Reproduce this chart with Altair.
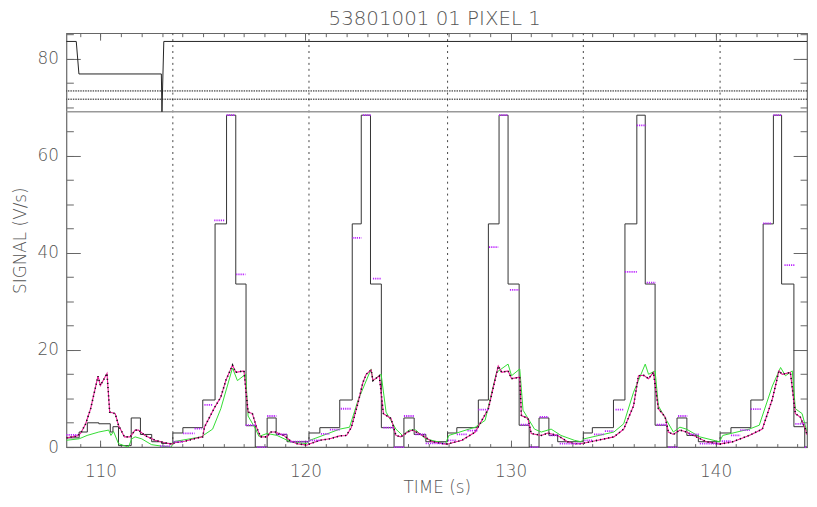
import altair as alt
import pandas as pd

TITLE = "53801001 01 PIXEL 1"
X_DOMAIN = [108.34, 144.46]
Y_DOMAIN = [0, 85.3]
W, H = 748, 418
FONT = "DejaVu Sans"
TXT = "#555555"

# black step signal (step-after)
STEP_T = [108.34, 108.96, 109.36, 109.92, 110.48, 110.61, 110.88, 111.5, 111.95, 112.5, 112.98,
          113.53, 114.02, 114.99, 115.59, 116.15, 116.6, 117.1, 117.55, 118.13, 118.57, 119.1,
          120.17, 120.7, 121.67, 122.28, 122.72, 123.17, 123.7, 124.32, 124.8, 125.3, 125.87,
          126.93, 127.38, 128.43, 128.92, 129.44, 129.88, 130.42, 130.91, 131.39, 131.87, 132.3,
          133.55, 133.99, 135.02, 135.58, 136.16, 136.57, 137.05, 137.63, 138.12, 138.6, 139.16,
          140.22, 140.75, 141.72, 142.32, 142.82, 143.22, 143.82, 144.35, 144.46]
STEP_V = [1.9, 3.1, 5.0, 4.8, 3.1, 4.2, 0.3, 6.0, 2.6, 1.1, 0.75,
          2.9, 4.0, 9.7, 46.0, 68.4, 33.6, 4.4, 0.0, 6.0, 2.6, 1.1,
          2.9, 4.0, 9.7, 46.0, 68.4, 33.6, 4.0, 0.0, 6.0, 2.6, 1.1,
          2.9, 4.0, 9.7, 46.0, 68.4, 33.6, 4.5, 0.0, 6.0, 2.4, 1.1,
          2.9, 4.0, 9.7, 46.0, 68.4, 33.6, 4.5, 0.0, 6.0, 2.4, 1.1,
          2.9, 4.0, 9.7, 46.0, 68.4, 33.6, 4.2, 0.0, 0.0]

# magenta line / black dotted samples
MAG_T = [108.34, 108.87, 109.03, 109.28, 109.52, 109.88, 110.0, 110.32, 110.45, 110.72, 110.88,
         111.17, 111.45, 111.69, 111.85, 112.17, 112.66, 113.14, 113.46, 113.62, 114.11, 114.75,
         114.99, 115.07, 115.56, 115.87, 116.12, 116.44, 116.6, 117.0, 117.2, 117.41, 117.61,
         117.81, 118.13, 118.29, 118.53, 118.94, 119.26, 119.58, 120.06, 120.22, 120.71, 121.19,
         121.67, 122.0, 122.24, 122.56, 122.8, 122.96, 123.2, 123.29, 123.6, 123.8, 124.17,
         124.41, 124.65, 124.98, 125.22, 125.7, 126.18, 126.83, 126.99, 127.63, 128.28, 128.92,
         129.4, 129.57, 129.88, 130.05, 130.45, 130.53, 130.85, 131.01, 131.5, 131.82, 132.3,
         132.78, 133.11, 133.43, 133.91, 135.04, 135.52, 136.0, 136.24, 136.49, 136.73, 136.97,
         137.21, 137.54, 137.7, 137.94, 138.26, 138.58, 139.06, 139.55, 140.19, 140.84, 141.64,
         142.28, 142.77, 143.09, 143.25, 143.65, 143.89, 144.13, 144.38, 144.46]
MAG_V = [1.9, 2.3, 2.8, 4.8, 7.9, 14.6, 12.7, 15.2, 7.2, 6.9, 4.5,
         2.1, 2.1, 3.5, 3.5, 2.4, 1.4, 0.9, 0.6, 0.9, 1.2, 1.9,
         2.1, 4.1, 8.1, 10.3, 13.8, 16.9, 15.4, 15.7, 7.2, 6.9, 4.1,
         2.1, 2.1, 3.1, 3.1, 2.4, 1.3, 0.7, 0.4, 0.7, 1.4, 1.7,
         2.3, 2.4, 4.1, 9.1, 13.3, 15.0, 15.9, 13.7, 14.7, 6.9, 5.9,
         2.4, 2.1, 3.1, 3.5, 2.4, 1.1, 0.6, 0.7, 1.4, 3.1, 7.9,
         16.7, 15.4, 15.7, 14.1, 14.4, 6.5, 5.9, 2.8, 2.4, 2.9, 2.4,
         1.1, 0.7, 0.7, 1.1, 2.1, 3.7, 8.5, 14.7, 14.8, 14.1, 15.4,
         7.9, 6.2, 3.1, 2.6, 3.5, 3.1, 2.1, 1.1, 0.6, 1.1, 2.4,
         3.7, 9.9, 15.7, 15.0, 15.4, 6.9, 6.2, 3.7, 2.5]

# green line
GRN_T = [108.34, 108.96, 109.35, 109.92, 110.4, 110.51, 110.64, 110.88, 111.36, 111.53, 111.69,
         112.01, 112.49, 112.97, 113.46, 113.55, 114.91, 115.47, 115.87, 116.44, 116.68, 117.08,
         117.2, 117.57, 117.73, 118.13, 118.61, 119.26, 120.06, 120.22, 121.67, 122.15, 122.56,
         123.2, 123.29, 123.69, 123.93, 124.41, 124.73, 125.05, 125.38, 125.86, 126.83, 126.99,
         128.28, 128.76, 129.32, 129.88, 130.05, 130.45, 130.61, 131.17, 131.5, 131.98, 132.46,
         133.11, 133.43, 133.59, 135.04, 135.52, 136.0, 136.57, 136.73, 137.05, 137.21, 137.61,
         137.94, 138.26, 138.58, 139.23, 140.19, 140.35, 141.64, 142.13, 142.77, 143.17, 143.41,
         143.74, 143.89, 144.22, 144.46]
GRN_V = [1.4, 1.7, 2.4, 3.1, 3.5, 2.4, 3.2, 0.7, 0.0, 1.7, 2.1,
         1.7, 0.5, 0.2, 0.0, 1.1, 2.1, 3.7, 7.9, 16.3, 13.7, 15.0,
         6.4, 3.7, 2.2, 2.8, 2.4, 1.1, 0.7, 1.4, 3.7, 4.1, 9.6,
         16.1, 13.7, 15.0, 7.2, 3.7, 2.4, 3.5, 3.5, 1.7, 0.7, 2.4,
         4.1, 5.5, 15.4, 17.1, 14.7, 16.1, 7.6, 3.7, 3.1, 3.7, 2.4,
         1.4, 1.1, 1.7, 3.1, 4.8, 11.3, 17.1, 15.0, 15.7, 8.5, 5.5,
         3.1, 4.1, 3.7, 2.1, 1.1, 2.4, 3.7, 4.5, 12.6, 16.4, 14.7,
         15.7, 7.9, 6.9, 3.1]

# violet dotted group levels (start, end, value)
DASH_T0 = [108.34, 112.9, 113.55, 114.03, 114.59, 115.07, 115.55, 116.15, 116.62, 117.08, 117.65,
           118.13, 118.6, 119.26, 120.2, 120.75, 121.19, 121.72, 122.29, 122.8, 123.29, 123.8,
           124.32, 124.8, 125.36, 125.86, 126.95, 127.38, 127.9, 128.43, 128.95, 129.44, 129.97,
           130.5, 130.95, 131.42, 131.9, 132.4, 133.6, 134.07, 134.6, 135.12, 135.58, 136.16,
           136.64, 137.13, 137.7, 138.17, 138.7, 139.23, 140.3, 140.75, 141.2, 141.72, 142.32,
           142.82, 143.36, 143.89, 144.35]
DASH_T1 = [108.9, 113.45, 114.02, 114.59, 114.94, 115.47, 116.06, 116.54, 117.07, 117.57, 118.1,
           118.58, 119.1, 120.17, 120.7, 121.19, 121.67, 122.24, 122.73, 123.19, 123.69, 124.28,
           124.8, 125.29, 125.86, 126.83, 127.38, 127.9, 128.4, 128.92, 129.4, 129.88, 130.42,
           130.9, 131.4, 131.85, 132.35, 133.45, 133.99, 134.55, 135.04, 135.52, 136.16, 136.61,
           137.08, 137.61, 138.15, 138.62, 139.19, 140.19, 140.75, 141.2, 141.67, 142.23, 142.74,
           143.22, 143.87, 144.35, 144.46]
DASH_V = [2.5, 0.2, 1.1, 2.8, 3.8, 8.7, 46.7, 68.4, 35.6, 4.5, 0.0,
          6.4, 2.6, 1.1, 1.4, 2.7, 3.6, 7.9, 43.1, 68.4, 34.7, 4.0,
          0.0, 6.4, 2.6, 0.75, 1.4, 2.6, 3.4, 7.7, 41.2, 68.4, 32.4,
          4.6, 0.0, 6.2, 2.4, 0.7, 1.4, 2.6, 3.3, 7.7, 36.1, 66.3,
          33.9, 4.6, 0.0, 6.4, 2.6, 0.7, 1.2, 2.4, 3.5, 7.8, 46.1,
          68.4, 37.5, 4.8, 0.0]

# upper status trace
TOP_T = [108.34, 108.82, 108.95, 112.97, 113.0, 113.09, 144.46]
TOP_V = [83.6, 83.6, 76.9, 76.9, 69.1, 83.6, 83.6]

VLINES = [113.53, 120.17, 126.93, 133.55, 140.22]
HSOLID = [69.1]
HDOT = [73.4, 71.7]

X_MAJOR = [110, 120, 130, 140]
X_MINOR = list(range(109, 145))
Y_MAJOR = [0, 20, 40, 60, 80]
Y_MINOR = list(range(0, 86, 5))

xs = alt.Scale(domain=X_DOMAIN, nice=False, zero=False)
ys = alt.Scale(domain=Y_DOMAIN, nice=False, zero=False)

step_df = pd.DataFrame({"t": STEP_T, "v": STEP_V})
mag_df = pd.DataFrame({"t": MAG_T, "v": MAG_V})
grn_df = pd.DataFrame({"t": GRN_T, "v": GRN_V})
dash_df = pd.DataFrame({"t0": DASH_T0, "t1": DASH_T1, "v": DASH_V})
top_df = pd.DataFrame({"t": TOP_T, "v": TOP_V})
vl_df = pd.DataFrame({"t": VLINES})
hs_df = pd.DataFrame({"v": HSOLID})
hd_df = pd.DataFrame({"v": HDOT})
dummy = pd.DataFrame({"t": [X_DOMAIN[0]], "v": [0.0]})

X = lambda f="t": alt.X(f"{f}:Q", scale=xs, axis=None)
Y = lambda f="v": alt.Y(f"{f}:Q", scale=ys, axis=None)


def tick_axis(orient, offset, values, size):
    return alt.Axis(orient=orient, offset=offset, values=values, tickSize=size, labels=False,
                    domain=False, grid=False, title=None, tickColor="#666666", tickWidth=1)


def xaxis_layer(axis):
    return alt.Chart(dummy).mark_point(opacity=0).encode(
        x=alt.X("t:Q", scale=xs, axis=axis), y=Y())


def yaxis_layer(axis):
    return alt.Chart(dummy).mark_point(opacity=0).encode(
        x=X(), y=alt.Y("v:Q", scale=ys, axis=axis))


x_label_axis = alt.Axis(orient="bottom", values=X_MAJOR, tickSize=0, domain=False, grid=False,
                        labelPadding=17, labelFont=FONT, labelFontSize=17, labelColor=TXT,
                        labelFontWeight=300, title="TIME (s)", titleFont=FONT, titleFontSize=17,
                        titleFontWeight=300, titleColor=TXT, titleY=41, titleBaseline="middle")
y_label_axis = alt.Axis(orient="left", values=Y_MAJOR, tickSize=0, domain=False, grid=False,
                        labelPadding=8, labelFont=FONT, labelFontSize=17, labelColor=TXT,
                        labelFontWeight=300, title="SIGNAL (V/s)", titleFont=FONT, titleFontSize=17,
                        titleFontWeight=300, titleColor=TXT, titleX=-46, titleY=H / 2,
                        titleAngle=270, titleBaseline="middle", titleAlign="center")

axes = [
    xaxis_layer(x_label_axis),
    xaxis_layer(tick_axis("top", -H, X_MAJOR, 7)),
    xaxis_layer(tick_axis("top", -H, X_MINOR, 3.5)),
    xaxis_layer(tick_axis("bottom", -H, X_MAJOR, 7)),
    xaxis_layer(tick_axis("bottom", -H, X_MINOR, 3.5)),
    yaxis_layer(y_label_axis),
    yaxis_layer(tick_axis("right", -W, Y_MAJOR, 14)),
    yaxis_layer(tick_axis("right", -W, Y_MINOR, 7)),
    yaxis_layer(tick_axis("left", -W, Y_MAJOR, 14)),
    yaxis_layer(tick_axis("left", -W, Y_MINOR, 7)),
]

vlines = alt.Chart(vl_df).mark_rule(color="#444444", strokeDash=[2, 4], strokeWidth=1).encode(x=X())
hsolid = alt.Chart(hs_df).mark_rule(color="#999999", strokeWidth=1.5).encode(y=Y())
hdot = alt.Chart(hd_df).mark_rule(color="#111111", strokeDash=[1.5, 1], strokeWidth=1).encode(y=Y())

step = alt.Chart(step_df).mark_line(interpolate="step-after", color="#333333", strokeWidth=1,
                                    clip=True).encode(x=X(), y=Y())
green = alt.Chart(grn_df).mark_line(color="#33dd33", strokeWidth=1, clip=True).encode(x=X(), y=Y())
mag = alt.Chart(mag_df).mark_line(color="#ee1a9c", strokeWidth=1.1, clip=True).encode(x=X(), y=Y())
blackdot = alt.Chart(mag_df).mark_line(color="#111111", strokeWidth=1.6, strokeDash=[1.2, 3],
                                       clip=True).encode(x=X(), y=Y())
dashes = alt.Chart(dash_df).mark_rule(color="#bb22ff", strokeWidth=1.8, strokeDash=[1.2, 1]).encode(
    x=X("t0"), x2="t1:Q", y=Y())
top = alt.Chart(top_df).mark_line(color="#222222", strokeWidth=1).encode(x=X(), y=Y())

title = alt.Chart(pd.DataFrame({"s": [TITLE]})).mark_text(
    font=FONT, fontSize=20, fontWeight=300, color=TXT, baseline="alphabetic", align="center"
).encode(text="s:N", x=alt.value(W / 2 - 2), y=alt.value(-8))

chart = alt.layer(
    *axes, vlines, hsolid, hdot, step, green, mag, blackdot, dashes, top, title
).resolve_axis(x="independent", y="independent").properties(
    width=W, height=H,
    autosize=alt.AutoSizeParams(type="none"),
    padding={"left": 59, "top": 23, "right": 2, "bottom": 50},
).configure_view(stroke="#666666", strokeWidth=1.2)

chart.save("out.html", embed_options={"renderer": "svg", "actions": False})
